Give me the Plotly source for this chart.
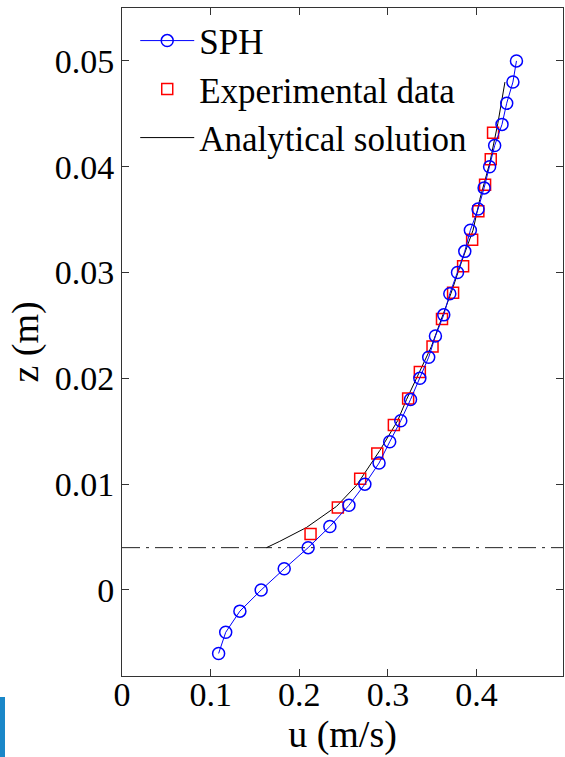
import plotly.graph_objects as go

# SPH results
sph_u = [0.109, 0.117, 0.133, 0.157, 0.183, 0.210, 0.2345, 0.256, 0.274, 0.290, 0.302,
         0.3145, 0.3255, 0.336, 0.346, 0.3536, 0.363, 0.3698, 0.3785, 0.3867, 0.393,
         0.4017, 0.4085, 0.4147, 0.4204, 0.4287, 0.434, 0.441, 0.445]
sph_z = [-0.006, -0.004, -0.002, 0.0, 0.002, 0.004, 0.006, 0.008, 0.010, 0.012, 0.014,
         0.016, 0.018, 0.020, 0.022, 0.024, 0.026, 0.028, 0.030, 0.032, 0.034,
         0.036, 0.038, 0.040, 0.042, 0.044, 0.046, 0.048, 0.050]

# Experimental data
exp_u = [0.2127, 0.2435, 0.2687, 0.288, 0.3067, 0.3228, 0.336, 0.3503, 0.361, 0.3735,
         0.3848, 0.395, 0.402, 0.4096, 0.416, 0.4186]
exp_z = [0.0053, 0.0078, 0.0105, 0.0129, 0.0156, 0.0181, 0.0206, 0.0230, 0.0256, 0.0281,
         0.0306, 0.0331, 0.0358, 0.0383, 0.0407, 0.0432]

# Analytical solution
ana_u = [0.163, 0.178, 0.208, 0.242, 0.2646, 0.291, 0.311, 0.321, 0.335, 0.349, 0.362,
         0.371, 0.383, 0.396, 0.4036, 0.415, 0.424, 0.432]
ana_z = [0.004, 0.0046, 0.0059, 0.0079, 0.0099, 0.0132, 0.016, 0.018, 0.0205, 0.023, 0.026,
         0.028, 0.031, 0.034, 0.0369, 0.0404, 0.0441, 0.048]

# Reference level (dash-dot)
ref_u = [0.0, 0.5]
ref_z = [0.004, 0.004]

x_ticks = [0, 0.1, 0.2, 0.3, 0.4]
x_ticktext = ["0", "0.1", "0.2", "0.3", "0.4"]
y_ticks = [0, 0.01, 0.02, 0.03, 0.04, 0.05]
y_ticktext = ["0", "0.01", "0.02", "0.03", "0.04", "0.05"]

FONT = "Liberation Serif, Times New Roman, serif"

fig = go.Figure()
fig.add_trace(go.Scatter(x=ref_u, y=ref_z, mode="lines", showlegend=False,
                         line=dict(color="#222222", width=1, dash="18px,6px,3px,6px"),
                         hoverinfo="skip"))
fig.add_trace(go.Scatter(x=ana_u, y=ana_z, mode="lines", name="Analytical solution",
                         line=dict(color="black", width=1), legendrank=3))
fig.add_trace(go.Scatter(x=exp_u, y=exp_z, mode="markers", name="Experimental data",
                         marker=dict(symbol="square-open", size=11, color="red",
                                     line=dict(width=1.5, color="red")), legendrank=2))
fig.add_trace(go.Scatter(x=sph_u, y=sph_z, mode="lines+markers", name="SPH",
                         line=dict(color="blue", width=1),
                         marker=dict(symbol="circle-open", size=12, color="blue",
                                     line=dict(width=1.5, color="blue")), legendrank=1))

fig.update_layout(
    width=565, height=757,
    margin=dict(l=122, r=2, t=8, b=81),
    paper_bgcolor="white", plot_bgcolor="white",
    font=dict(family=FONT, size=34, color="black"),
    showlegend=True,
    legend=dict(x=0.03, y=0.995, xanchor="left", yanchor="top",
                bgcolor="rgba(0,0,0,0)", borderwidth=0, itemwidth=54,
                font=dict(family=FONT, size=35), tracegroupgap=0),
    shapes=[dict(type="rect", xref="paper", yref="paper",
                 x0=-0.2766, x1=-0.2653, y0=-0.1213, y1=-0.0314,
                 fillcolor="#1a87c8", line=dict(width=0))],
)
fig.update_xaxes(range=[0, 0.4975], tickvals=x_ticks, ticktext=x_ticktext,
                 showline=True, linecolor="#333333", linewidth=1, mirror="ticks",
                 ticks="inside", ticklen=7, tickcolor="#333333", showgrid=False,
                 zeroline=False, tickfont=dict(size=34), ticklabelstandoff=-12,
                 title=dict(text="u (m/s)", standoff=2, font=dict(size=38)))
fig.update_yaxes(range=[-0.00813, 0.0550], tickvals=y_ticks, ticktext=y_ticktext,
                 showline=True, linecolor="#333333", linewidth=1, mirror="ticks",
                 ticks="inside", ticklen=7, tickcolor="#333333", showgrid=False,
                 zeroline=False, tickfont=dict(size=34),
                 title=dict(text="z (m)", standoff=4, font=dict(size=38)))

fig.write_html("out.html")
